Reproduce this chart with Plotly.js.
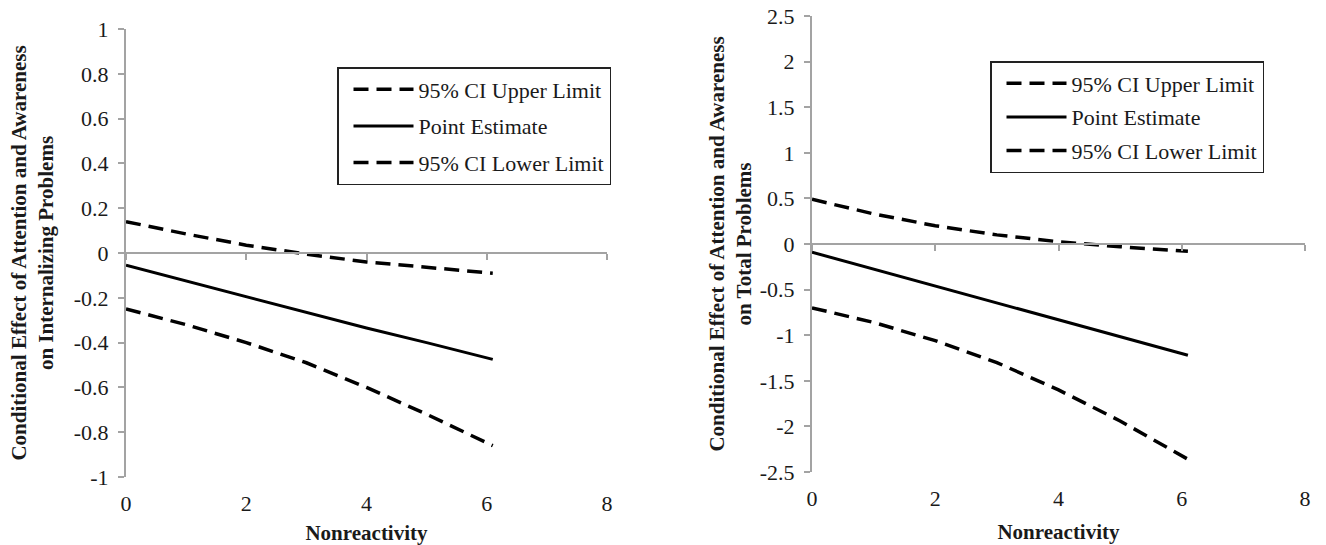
<!DOCTYPE html>
<html>
<head>
<meta charset="utf-8">
<script src="https://cdn.plot.ly/plotly-3.0.1.min.js"></script>
<style>html,body{margin:0;padding:0;background:#fff;}#chart{width:1326px;height:545px;}</style>
</head>
<body>
<div id="chart"></div>
<script>
// ---- data ----
const nonreactivity = [0, 1, 2, 3, 4, 5, 6.1];

// Left panel: Internalizing Problems
const intUpper = [0.14, 0.085, 0.035, -0.005, -0.04, -0.065, -0.09];
const intPoint = [-0.055, -0.125, -0.195, -0.265, -0.335, -0.40, -0.475];
const intLower = [-0.25, -0.32, -0.40, -0.49, -0.60, -0.72, -0.86];

// Right panel: Total Problems
const totUpper = [0.49, 0.33, 0.20, 0.10, 0.025, -0.03, -0.08];
const totPoint = [-0.09, -0.275, -0.46, -0.645, -0.83, -1.015, -1.22];
const totLower = [-0.70, -0.86, -1.06, -1.30, -1.60, -1.94, -2.36];

const seriesNames = ['95% CI Upper Limit', 'Point Estimate', '95% CI Lower Limit'];

const xTickVals = [0, 2, 4, 6, 8];
const xTickText = ['0', '2', '4', '6', '8'];
const intYTickVals = [1, 0.8, 0.6, 0.4, 0.2, 0, -0.2, -0.4, -0.6, -0.8, -1];
const intYTickText = ['1', '0.8', '0.6', '0.4', '0.2', '0', '-0.2', '-0.4', '-0.6', '-0.8', '-1'];
const totYTickVals = [2.5, 2, 1.5, 1, 0.5, 0, -0.5, -1, -1.5, -2, -2.5];
const totYTickText = ['2.5', '2', '1.5', '1', '0.5', '0', '-0.5', '-1', '-1.5', '-2', '-2.5'];

const xTitle = 'Nonreactivity';
const intYTitle = 'Conditional Effect of Attention and Awareness<br>on Internalizing Problems';
const totYTitle = 'Conditional Effect of Attention and Awareness<br>on Total Problems';

// ---- styles ----
const FONT = '"Liberation Serif", serif';
const AXIS_GREY = '#a3a3a3';
const TEXT = '#1a1a1a';
const dashStyle = {color: '#000', width: 3.5, dash: '15px,8px'};
const solidStyle = {color: '#000', width: 3};
const styles = [dashStyle, solidStyle, dashStyle];

function makeTraces(values, xa, ya, legendId) {
  return values.map((ys, i) => ({
    type: 'scatter', mode: 'lines',
    x: nonreactivity, y: ys,
    name: seriesNames[i],
    xaxis: xa, yaxis: ya,
    legend: legendId,
    legendgroup: legendId + i,
    line: styles[i],
    hoverinfo: 'x+y+name'
  }));
}

// empty helper traces so the overlaid zero-axes (x3, x4) are drawn
const axisHolders = [
  {type: 'scatter', mode: 'lines', x: [], y: [], xaxis: 'x3', yaxis: 'y', showlegend: false, hoverinfo: 'skip'},
  {type: 'scatter', mode: 'lines', x: [], y: [], xaxis: 'x4', yaxis: 'y2', showlegend: false, hoverinfo: 'skip'}
];

const traces = [
  ...makeTraces([intUpper, intPoint, intLower], 'x', 'y', 'legend'),
  ...makeTraces([totUpper, totPoint, totLower], 'x2', 'y2', 'legend2'),
  ...axisHolders
];

const W = 1326, H = 545;
const leftX = [126 / W, 607 / W];
const leftY = [(H - 477) / H, (H - 29) / H];
const rightX = [812 / W, 1305 / W];
const rightY = [(H - 472) / H, (H - 16) / H];

function xAxis(domain, anchor) {
  return {
    domain: domain, anchor: anchor, range: [0, 8],
    tickmode: 'array', tickvals: xTickVals, ticktext: xTickText,
    showline: false, showgrid: false, zeroline: false,
    ticks: 'outside', ticklen: 7, tickcolor: 'rgba(0,0,0,0)',
    tickfont: {family: FONT, size: 22, color: TEXT},
    title: {text: '<b>' + xTitle + '</b>', font: {family: FONT, size: 21, color: TEXT}, standoff: 13},
    automargin: false, fixedrange: true
  };
}
function yAxis(domain, anchor, range, vals, text, title, standoff) {
  return {
    domain: domain, anchor: anchor, range: range,
    tickmode: 'array', tickvals: vals, ticktext: text,
    showline: true, linecolor: AXIS_GREY, linewidth: 2,
    ticks: 'outside', ticklen: 6, tickcolor: AXIS_GREY, tickwidth: 1.5,
    ticklabelstandoff: 5,
    showgrid: false, zeroline: false,
    tickfont: {family: FONT, size: 22, color: TEXT},
    title: {text: '<b>' + title + '</b>', font: {family: FONT, size: 21, color: TEXT}, standoff: standoff},
    automargin: false, fixedrange: true
  };
}
function zeroAxis(overlay, pos) {
  return {
    overlaying: overlay, anchor: 'free', position: pos, range: [0, 8],
    tickmode: 'array', tickvals: xTickVals,
    showline: true, linecolor: AXIS_GREY, linewidth: 2,
    ticks: 'outside', ticklen: 6, tickcolor: AXIS_GREY, tickwidth: 1.5,
    showticklabels: false, showgrid: false, zeroline: false, fixedrange: true
  };
}

const leftZero = leftY[0] + (leftY[1] - leftY[0]) * 0.5;
const rightZero = rightY[0] + (rightY[1] - rightY[0]) * 0.5;

const legendBase = {
  xanchor: 'left', yanchor: 'top',
  bgcolor: '#fff', bordercolor: '#222', borderwidth: 1.5,
  font: {family: FONT, size: 22, color: TEXT},
  traceorder: 'grouped', itemwidth: 60, indentation: 10,
  itemclick: false, itemdoubleclick: false
};

const layout = {
  width: W, height: H,
  margin: {l: 0, r: 0, t: 0, b: 0},
  paper_bgcolor: '#fff', plot_bgcolor: 'rgba(0,0,0,0)',
  showlegend: true,
  font: {family: FONT, size: 22, color: TEXT},
  xaxis: xAxis(leftX, 'y'),
  yaxis: yAxis(leftY, 'x', [-1, 1], intYTickVals, intYTickText, intYTitle, 14),
  xaxis2: xAxis(rightX, 'y2'),
  yaxis2: yAxis(rightY, 'x2', [-2.5, 2.5], totYTickVals, totYTickText, totYTitle, 2),
  xaxis3: zeroAxis('x', leftZero),
  xaxis4: zeroAxis('x2', rightZero),
  legend: Object.assign({}, legendBase, {x: 337 / W, y: 1 - 67 / H, tracegroupgap: 5}),
  legend2: Object.assign({}, legendBase, {x: 990 / W, y: 1 - 61 / H, tracegroupgap: 2})
};

Plotly.newPlot('chart', traces, layout, {displayModeBar: false, responsive: false});
</script>
</body>
</html>
